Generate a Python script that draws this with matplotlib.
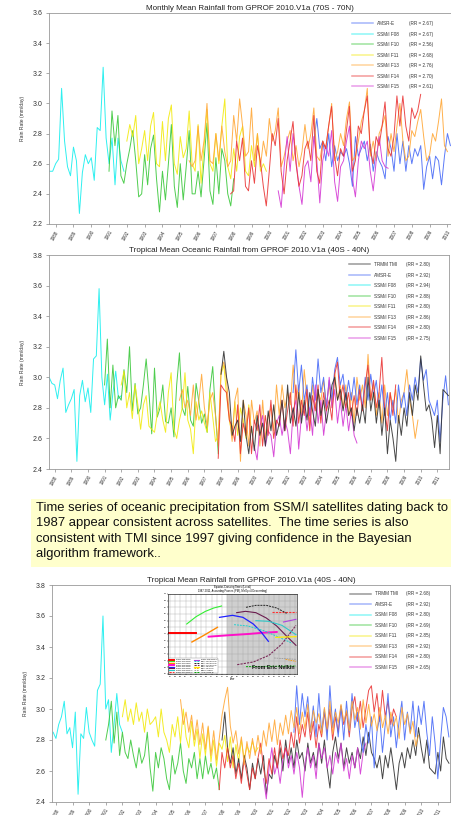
import numpy as np
import matplotlib
matplotlib.use("Agg")
import matplotlib.pyplot as plt
from matplotlib.lines import Line2D

plt.rcParams['font.family'] = ['Liberation Sans', 'DejaVu Sans']

# ---- data: bimonthly rain rates (mm/day * 100), each list starts at the given year ----
# panel 1: 70S - 70N
P1_F08_START, P1_F08 = 1987.67, [255, 255, 260, 263, 310, 275, 258, 252, 271, 262, 227, 254, 266,
                                 260, 264, 249, 284, 282, 324, 277, 260, 277, 246, 277, 262, 255]
P1_F10_START, P1_F10 = 1991.0, [255, 295, 272, 292, 252, 247, 260, 270, 282, 262, 238, 240,
                                266, 246, 270, 279, 250, 228, 255, 236, 260, 286, 245, 231,
                                260, 236, 258, 282, 240, 240, 255, 238, 262, 287, 242, 233,
                                264, 240, 270, 262, 240, 232, 250]
P1_F11_START, P1_F11 = 1992.0, [275, 286, 278, 292, 260, 270, 282, 262, 285, 294, 260, 258,
                                288, 262, 290, 299, 260, 253, 278, 264, 270, 295, 260, 255,
                                286, 247, 272, 296, 260, 255, 280, 260, 285, 303, 258, 250,
                                270, 255, 278, 285, 255, 252, 272, 258, 280, 255, 260, 255]
P1_F13_START, P1_F13 = 1995.5, [262, 258, 262,
                                285, 262, 275, 300, 262, 260, 280, 262, 285, 268, 258, 262,
                                292, 275, 303, 285, 265, 268, 297, 262, 280, 258, 275, 265,
                                290, 275, 282, 297, 258, 265, 275, 282, 262, 272, 258, 268,
                                286, 270, 280, 297, 265, 262, 275, 270, 285, 300, 262, 268,
                                280, 272, 290, 301, 262, 265, 275, 288, 295, 310, 265, 275,
                                262, 280, 285, 292, 265, 280, 268, 285, 300, 275, 262, 265,
                                282, 278, 288, 296, 278, 262, 266, 280, 275, 288, 303, 272, 268]
P1_F14_START, P1_F14 = 1997.83, [240,
                                 242, 275, 262, 277, 245, 242, 262, 247, 272, 262, 245, 232,
                                 255, 280, 272, 290, 255, 240, 262, 275, 288, 260, 245, 252,
                                 270, 275, 262, 292, 255, 247, 275, 270, 285, 298, 265, 252,
                                 270, 265, 282, 298, 255, 262, 285, 280, 295, 305, 270, 260,
                                 278, 272, 285, 301, 270, 265, 278, 305, 285, 305, 285, 275,
                                 297, 290, 295, 306]
P1_F15_START, P1_F15 = 2000.5, [242, 231, 258,
                                278, 255, 280, 262, 245, 233, 258, 262, 248, 278, 262, 234,
                                262, 272, 265, 282, 248, 235, 258, 262, 275, 285, 250, 238,
                                262, 275, 270, 275, 255, 242, 262, 278, 262, 258, 257]
P1_AMSR_START, P1_AMSR = 2002.5, [275, 290, 270,
                                  275, 262, 280, 258, 272, 262, 268, 265, 270, 260, 245, 278,
                                  265, 270, 275, 262, 273, 255, 268, 262, 258, 250, 278, 270,
                                  255, 280, 260, 275, 255, 272, 260, 270, 265, 272, 243, 258,
                                  265, 250, 265, 262, 246, 265, 280, 272]

# panel 2: 40S - 40N, ocean
P2_F08_START, P2_F08 = 1987.67, [300, 296, 295, 286, 298, 306, 277, 282, 286, 292, 245, 288, 298, 284,
                                 293, 277, 312, 314, 358, 300, 282, 302, 272, 290, 304, 286, 288]
P2_F10_START, P2_F10 = 1991.0, [295, 325, 280, 308, 280, 288, 285, 305, 290, 320, 278, 296,
                                276, 280, 295, 312, 290, 263, 306, 274, 280, 295, 271, 270,
                                280, 261, 295, 316, 280, 275, 294, 272, 268, 296, 284, 270,
                                276, 264, 292, 307, 276, 250]
P2_F11_START, P2_F11 = 1992.0, [295, 304, 280, 290, 273, 295, 282, 266, 282, 288, 268, 266,
                                264, 276, 284, 272, 264, 290, 303, 266, 260, 272, 280, 303,
                                272, 266, 250, 284, 272, 278, 270, 264, 290, 274, 258, 262,
                                302, 308, 288, 272, 262, 284, 262, 280, 272, 260, 282, 264]
P2_F13_START, P2_F13 = 1995.5, [285, 292, 280,
                                285, 275, 295, 272, 285, 302, 280, 268, 285, 290, 275, 255,
                                305, 310, 298, 275, 258, 285, 293, 245, 285, 275, 255, 285,
                                270, 278, 255, 285, 260, 275, 280, 265, 295, 275, 295, 280,
                                290, 282, 308, 285, 295, 275, 305, 285, 270, 295, 280, 290,
                                285, 298, 282, 295, 280, 303, 285, 295, 280, 295, 275, 290,
                                270, 300, 285, 295, 280, 315, 285, 295, 275, 290, 270, 295,
                                275, 290, 280, 292, 270, 285, 290, 305, 285, 275, 260, 272]
P2_F14_START, P2_F14 = 1997.83, [247,
                                 295, 292, 290, 272, 268, 258, 282, 250, 270, 262, 280, 250,
                                 272, 265, 282, 255, 275, 262, 285, 260, 272, 268, 285, 265,
                                 278, 290, 268, 295, 270, 285, 275, 292, 265, 288, 278, 295,
                                 270, 290, 278, 285, 272, 302, 310, 285, 295, 280, 290, 275,
                                 288, 275, 292, 278, 295, 308, 285, 298, 280, 290, 313, 280,
                                 265, 290, 275, 295]
P2_F15_START, P2_F15 = 2000.0, [255, 246, 268, 275, 255, 265, 262, 248, 270, 275, 262, 272,
                                265, 250, 278, 285, 253, 275, 282, 265, 280, 262, 295, 270,
                                285, 262, 278, 300, 280, 292, 270, 285, 268, 282, 265, 278,
                                262, 257]
P2_TMI_START, P2_TMI = 1998.0, [302, 317, 300, 290, 262, 268, 272, 258, 285, 262, 250, 268,
                                252, 275, 262, 270, 255, 278, 265, 282, 262, 270, 285, 265,
                                295, 270, 280, 268, 290, 270, 285, 272, 290, 278, 268, 292,
                                275, 285, 270, 282, 295, 300, 285, 292, 278, 290, 275, 280,
                                265, 280, 270, 282, 270, 300, 278, 290, 270, 285, 262, 280,
                                250, 272, 260, 245, 275, 262, 280, 268, 290, 275, 295, 285,
                                314, 295, 278, 282, 272, 254, 275, 250, 292, 290, 288]
P2_AMSR_START, P2_AMSR = 2002.33, [290, 318, 290, 308,
                                   285, 295, 275, 300, 285, 312, 290, 300, 280, 298, 285, 305,
                                   313, 295, 302, 285, 298, 285, 300, 282, 295, 280, 300, 285,
                                   302, 288, 298, 280, 295, 275, 290, 272, 285, 270, 295, 280,
                                   290, 275, 295, 285, 300, 290, 312, 298, 305, 285, 280, 275,
                                   285, 258, 285, 301, 282]

# panel 3: 40S - 40N, land + ocean
P3_F08_START, P3_F08 = 1987.83, [285, 281, 290, 295, 305, 284, 288, 275, 298, 245, 284, 281, 301,
                                 285, 280, 276, 312, 316, 360, 300, 306, 272, 290, 310, 290, 285]
P3_F10_START, P3_F10 = 1991.0, [280, 290, 305, 278, 298, 270, 285, 272, 268, 280, 270, 262,
                                275, 265, 270, 285, 262, 247, 272, 262, 275, 268, 255, 248,
                                270, 258, 265, 278, 260, 252, 268, 262, 272, 255, 268, 255,
                                270, 258, 265, 255, 262, 248]
P3_F11_START, P3_F11 = 1992.0, [295, 306, 292, 300, 290, 304, 292, 298, 285, 300, 290, 292,
                                295, 282, 300, 285, 280, 272, 290, 282, 295, 278, 300, 282,
                                275, 292, 276, 287, 268, 284, 270, 288, 266, 280, 263, 278,
                                274, 283, 266, 282, 262, 277, 266, 280, 268, 276, 272, 279,
                                272, 275]
P3_F13_START, P3_F13 = 1995.5, [306, 290, 298,
                                285, 296, 280, 293, 277, 291, 274, 289, 270, 286, 267, 281,
                                296, 306, 314, 289, 278, 286, 271, 282, 264, 279, 268, 281,
                                270, 283, 271, 286, 276, 291, 279, 293, 277, 291, 283, 296,
                                284, 299, 288, 301, 284, 298, 287, 303, 285, 299, 291, 297,
                                284, 301, 287, 305, 284, 298, 291, 303, 292, 299, 286, 305,
                                293, 301, 287, 306, 291, 303, 289, 297, 286, 301, 288, 296,
                                284, 298, 289, 295, 281, 301, 290, 297, 284, 292, 276, 283]
P3_F14_START, P3_F14 = 1997.83, [248,
                                 272, 262, 275, 262, 270, 255, 265, 252, 268, 258, 248, 262,
                                 255, 268, 278, 262, 252, 268, 258, 275, 262, 280, 268, 275,
                                 270, 285, 275, 295, 278, 290, 282, 298, 280, 292, 275, 290,
                                 282, 298, 285, 300, 280, 295, 285, 302, 290, 298, 282, 300,
                                 308, 292, 305, 288, 300, 312, 315, 298, 310, 292, 312, 295,
                                 305, 290, 300, 295]
P3_F15_START, P3_F15 = 2000.5, [255, 242, 262,
                                275, 258, 265, 252, 268, 275, 262, 270, 258, 272, 262, 243,
                                265, 275, 262, 270, 255, 278, 268, 275, 262, 270, 258, 272,
                                265, 278, 260, 268, 255, 270, 262, 275, 258, 272, 278]
P3_TMI_START, P3_TMI = 1998.0, [280, 298, 275, 265, 275, 258, 268, 255, 270, 262, 248, 265,
                                255, 268, 258, 270, 245, 258, 255, 270, 262, 275, 260, 280,
                                265, 275, 262, 280, 268, 272, 260, 278, 265, 272, 262, 278,
                                265, 280, 262, 249, 272, 282, 268, 278, 262, 275, 265, 272,
                                262, 275, 268, 282, 270, 285, 272, 268, 262, 270, 255, 270,
                                262, 275, 262, 248, 265, 272, 262, 275, 268, 280, 270, 288,
                                275, 265, 280, 262, 260, 258, 272, 260, 282, 268, 265]
P3_AMSR_START, P3_AMSR = 2002.33, [285, 315, 290, 310,
                                   295, 308, 285, 302, 282, 310, 285, 300, 280, 315, 288, 300,
                                   282, 302, 280, 305, 285, 310, 288, 298, 280, 272, 290, 278,
                                   295, 262, 285, 295, 272, 290, 310, 282, 295, 275, 292, 305,
                                   280, 298, 285, 305, 282, 302, 290, 305, 285, 270, 295, 278,
                                   255, 280, 301, 295, 282]

# legend order and mean rain rates
P1_NAMES = ['AMSR-E', 'SSM/I F08', 'SSM/I F10', 'SSM/I F11', 'SSM/I F13', 'SSM/I F14', 'SSM/I F15']
P1_RR = [2.67, 2.67, 2.56, 2.68, 2.76, 2.70, 2.61]
P2_NAMES = ['TRMM TMI', 'AMSR-E', 'SSM/I F08', 'SSM/I F10', 'SSM/I F11', 'SSM/I F13', 'SSM/I F14', 'SSM/I F15']
P2_RR = [2.80, 2.92, 2.94, 2.88, 2.80, 2.86, 2.80, 2.75]
P3_NAMES = P2_NAMES
P3_RR = [2.68, 2.92, 2.80, 2.69, 2.85, 2.92, 2.80, 2.65]

# inset: equator crossing times (local hour)
ECT_LABELS = ['DMSP F08(SSMI)', 'DMSP F10(SSMI)', 'DMSP F11(SSMI)', 'DMSP F13(SSMI)', 'DMSP F14(SSMI)',
              'DMSP F15(SSMI)', 'DMSP F16(SSMIS)', 'DMSP F17(SSMIS)', 'DMSP F18(SSMIS)',
              'NOAA-15(AMSU-B)', 'NOAA-16(AMSU-B)', 'NOAA-17(AMSU-B)', 'NOAA-18(MHS)', 'NOAA-19(MHS)',
              'MetOp-A(MHS)', 'Aqua(AMSR-E)']
ECT_YEARS = [[1986.7, 1991.9], [1990.2, 1992.0, 1993.8, 1995.4, 1996.9], [1991.2, 1993.5, 1996.1],
             [1994.4, 1998.0, 2002.0, 2005.0, 2007.5], [1996.5, 1999.0, 2001.0, 2003.0, 2004.5, 2005.9],
             [1999.8, 2001.5, 2003.5, 2005.5, 2007.5, 2009.5, 2011.2], [2003.5, 2006.0, 2008.5, 2011.2],
             [2006.5, 2011.2], [2008.8, 2011.2],
             [1999.3, 2002.0, 2005.0, 2008.0, 2010.5], [2001.6, 2003.5, 2005.5, 2007.5, 2009.4],
             [1999.9, 2003.0, 2006.0, 2008.5, 2011.2], [2007.3, 2011.2], [2009.2, 2011.2],
             [2007.0, 2011.2], [2001.6, 2011.2]]
ECT_HOURS = [[18.2, 18.2], [19.5, 20.6, 21.4, 21.9, 22.2], [16.8, 17.8, 19.0],
             [17.6, 17.8, 18.0, 18.2, 18.3], [20.5, 20.8, 20.5, 19.5, 18.3, 16.9],
             [21.2, 21.4, 21.2, 20.4, 19.2, 17.6, 16.3], [20.0, 19.9, 19.3, 17.9],
             [21.3, 21.3], [19.8, 20.2],
             [19.4, 19.2, 18.5, 17.5, 16.6], [22.0, 22.3, 22.3, 21.9, 21.1],
             [13.4, 13.8, 14.8, 16.5, 19.3], [17.5, 17.6], [14.2, 13.9],
             [14.4, 14.2], [13.1, 13.2]]
ECT_COLORS = ['#ff0000', '#33ee33', '#ff8800', '#ff10c8', '#2020ff', '#6a1c4e', '#30c8c8',
              '#ff3030', '#b040e0', '#20d0d0', '#222222', '#7a2a58', '#ffee00', '#ff9900',
              '#999999', '#00a000']
ECT_STYLES = ['-', '-', '-', '-', '-', '-', '-', '--', '-', '--', '--', '--', '-', '--', '--', '--']
ECT_WIDTHS = [1.4, 0.8, 1.0, 1.4, 0.9, 0.8, 0.8, 0.8, 0.8, 0.7, 0.7, 0.8, 0.9, 0.6, 0.6, 0.7]

BOX_TEXT = ("Time series of oceanic precipitation from SSM/I satellites dating back to\n"
            "1987 appear consistent across satellites.  The time series is also\n"
            "consistent with TMI since 1997 giving confidence in the Bayesian\n"
            "algorithm framework..")

COLOR = {'TRMM TMI': '#333333', 'AMSR-E': '#4a6cf7', 'SSM/I F08': '#18eeee', 'SSM/I F10': '#3cc83c',
         'SSM/I F11': '#f2ea10', 'SSM/I F13': '#ffa838', 'SSM/I F14': '#ea3636', 'SSM/I F15': '#d43ad4'}


def bimonthly(start, vals):
    return start + np.arange(len(vals)) / 6.0, np.array(vals) / 100.0


def draw_panel(ax, series, names, rr, title, xlim, ylim, last_year, leg_x, rr_x, leg_y):
    for name, start, vals in series:
        t, v = bimonthly(start, vals)
        ax.plot(t, v, color=COLOR[name], lw=0.7, alpha=0.9)
    ax.set_xlim(*xlim)
    ax.set_ylim(*ylim)
    ax.set_yticks(np.arange(ylim[0], ylim[1] + 0.01, 0.2))
    ax.set_yticklabels(['%.1f' % y for y in np.arange(ylim[0], ylim[1] + 0.01, 0.2)])
    years = list(range(1988, last_year + 1))
    ax.set_xticks(years)
    ax.set_xticklabels([str(y) for y in years], rotation=60, ha='right', va='top',
                       rotation_mode='anchor', fontsize=3.3)
    ax.tick_params(axis='y', labelsize=5, length=2, width=0.5, color='#888888', pad=2.5,
                   labelcolor='#333333')
    ax.tick_params(axis='x', length=2.5, width=0.5, color='#888888', pad=1.5,
                   labelcolor='#333333')
    for s in ax.spines.values():
        s.set_color('#999999')
        s.set_linewidth(0.6)
    ax.set_title(title, fontsize=5.8, pad=2.2, color='#222222')
    ax.set_ylabel('Rain Rate (mm/day)', fontsize=3.6, color='#333333')
    ax.yaxis.set_label_coords(-0.06, 0.5)

    handles = [Line2D([], [], color=COLOR[n], lw=1.1, alpha=0.5) for n in names]
    leg = ax.legend(handles, names, loc='upper left', bbox_to_anchor=(leg_x, leg_y), frameon=False,
                    fontsize=3.3, handlelength=4.5, handletextpad=0.9, labelspacing=1.2,
                    borderpad=0, borderaxespad=0, labelcolor='#333333')
    ax.add_artist(leg)
    blanks = [Line2D([], [], alpha=0) for _ in names]
    ax.legend(blanks, ['(RR = %.2f)' % r for r in rr], loc='upper left', bbox_to_anchor=(rr_x, leg_y),
              frameon=False, fontsize=3.3, handlelength=0, handletextpad=0, labelspacing=1.2,
              borderpad=0, borderaxespad=0, labelcolor='#333333')


fig = plt.figure(figsize=(4.52, 8.15), dpi=100)

ax1 = fig.add_axes([49 / 452, 1 - 224 / 815, 402 / 452, 211 / 815])
draw_panel(ax1,
           [('SSM/I F08', P1_F08_START, P1_F08), ('SSM/I F10', P1_F10_START, P1_F10),
            ('SSM/I F11', P1_F11_START, P1_F11), ('AMSR-E', P1_AMSR_START, P1_AMSR),
            ('SSM/I F13', P1_F13_START, P1_F13), ('SSM/I F15', P1_F15_START, P1_F15),
            ('SSM/I F14', P1_F14_START, P1_F14)],
           P1_NAMES, P1_RR, 'Monthly Mean Rainfall from GPROF 2010.V1a (70S - 70N)',
           (1987.63, 2010.2), (2.2, 3.6), 2010, 0.754, 0.8955, 0.962)

ax2 = fig.add_axes([49 / 452, 1 - 469 / 815, 400 / 452, 214 / 815])
draw_panel(ax2,
           [('SSM/I F08', P2_F08_START, P2_F08), ('SSM/I F10', P2_F10_START, P2_F10),
            ('SSM/I F11', P2_F11_START, P2_F11), ('SSM/I F13', P2_F13_START, P2_F13),
            ('AMSR-E', P2_AMSR_START, P2_AMSR), ('SSM/I F15', P2_F15_START, P2_F15),
            ('SSM/I F14', P2_F14_START, P2_F14), ('TRMM TMI', P2_TMI_START, P2_TMI)],
           P2_NAMES, P2_RR, 'Tropical Mean Oceanic Rainfall from GPROF 2010.V1a (40S - 40N)',
           (1987.66, 2011.7), (2.4, 3.8), 2011, 0.75, 0.8925, 0.967)

ax3 = fig.add_axes([52 / 452, 1 - 802 / 815, 398 / 452, 217 / 815])
draw_panel(ax3,
           [('SSM/I F08', P3_F08_START, P3_F08), ('SSM/I F10', P3_F10_START, P3_F10),
            ('SSM/I F11', P3_F11_START, P3_F11), ('TRMM TMI', P3_TMI_START, P3_TMI),
            ('SSM/I F15', P3_F15_START, P3_F15), ('SSM/I F14', P3_F14_START, P3_F14),
            ('AMSR-E', P3_AMSR_START, P3_AMSR), ('SSM/I F13', P3_F13_START, P3_F13)],
           P3_NAMES, P3_RR, 'Tropical Mean Rainfall from GPROF 2010.V1a (40S - 40N)',
           (1987.76, 2011.73), (2.4, 3.8), 2011, 0.749, 0.889, 0.971)

# yellow text box
box = fig.add_axes([31 / 452, 1 - 567 / 815, 421 / 452, 68 / 815])
box.set_facecolor('#ffffcc')
box.set_xticks([])
box.set_yticks([])
for s in box.spines.values():
    s.set_visible(False)
box.text(0.012, 0.95, BOX_TEXT, transform=box.transAxes, ha='left', va='top',
         fontsize=9.4, linespacing=1.34, color='#111111')

# inset: equator crossing times
axi = fig.add_axes([168 / 452, 1 - 674 / 815, 129 / 452, 80 / 815])
axi.axvspan(1997.9, 2011.5, color='#cfcfcf', zorder=0)
for lab, yrs, hrs, c, ls, w in zip(ECT_LABELS, ECT_YEARS, ECT_HOURS, ECT_COLORS, ECT_STYLES, ECT_WIDTHS):
    axi.plot(yrs, hrs, color=c, ls=ls, lw=w, label=lab, dashes=(2, 1) if ls == '--' else (None, None))
axi.set_xlim(1986.6, 2011.4)
axi.set_ylim(12, 24)
axi.set_xticks(range(1987, 2012))
axi.set_xticklabels(['%02d' % (y % 100) for y in range(1987, 2012)])
axi.set_yticks(range(12, 25))
axi.grid(True, color='#a0a0a0', lw=0.25)
axi.set_axisbelow(True)
axi.tick_params(labelsize=1.7, length=0.8, width=0.3, pad=0.5)
for s in axi.spines.values():
    s.set_linewidth(0.4)
axi.set_xlabel('Year', fontsize=2, labelpad=0.5)
axi.set_title('Equator-Crossing Times (Local)\n1987-2011, Ascending Passes (PM), MeOp=4 Descending)',
              fontsize=1.9, pad=1.2)
ileg = axi.legend(loc='lower left', ncol=2, fontsize=1.4, handlelength=2.5, labelspacing=0.2,
                  columnspacing=1.0, borderpad=0.4, framealpha=1, edgecolor='#888888',
                  borderaxespad=0.3)
ileg.get_frame().set_linewidth(0.3)
axi.text(0.98, 0.05, 'From Eric Nelkin', transform=axi.transAxes, ha='right', va='bottom',
         fontsize=3.8, fontweight='bold', color='#111111')

fig.savefig('out.png', dpi=100)
